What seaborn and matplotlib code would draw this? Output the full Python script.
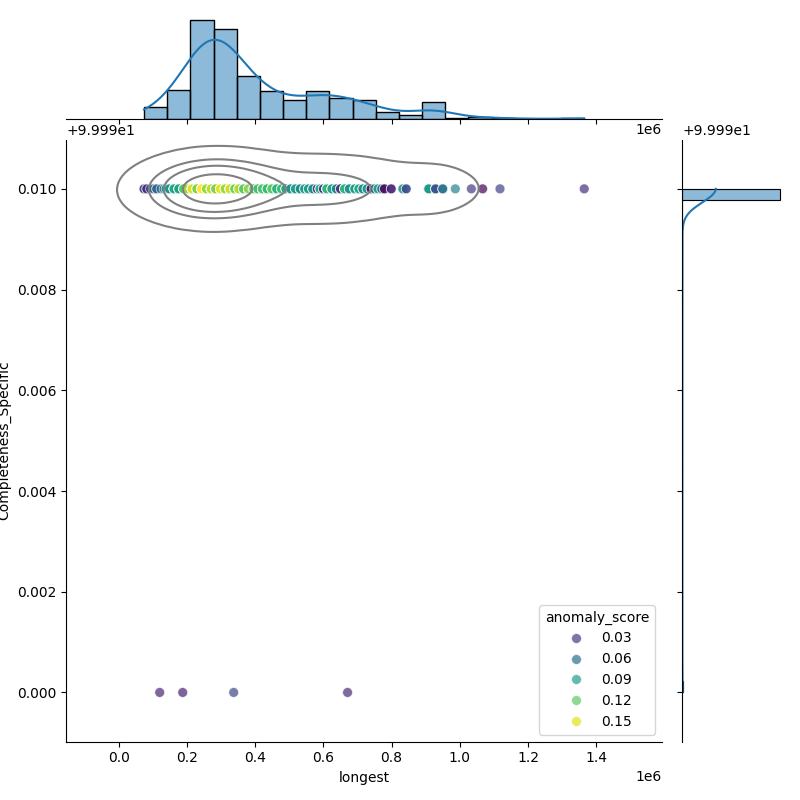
import matplotlib
matplotlib.use("Agg")
import matplotlib.pyplot as plt
import numpy as np
import pandas as pd
import seaborn as sns

# ---- data ----
# distinct x positions (longest contig), how many genomes sit on each,
# their Completeness_Specific and anomaly_score
longest_values = [
    74000, 82000, 93000, 102000, 111000, 124000, 133000, 139000,
    148000, 162000, 176000, 190000, 203000,
    215000, 229000, 243000, 257000, 271000,
    284000, 298000, 312000, 326000, 340000,
    352000, 366000, 380000, 393000, 396000, 408000,
    421000, 435000, 449000, 463000, 477000,
    490000, 504000, 518000, 532000, 545000,
    556000, 569000, 582000, 590000, 600000, 610000,
    625000, 638000, 650000, 662000, 676000,
    692000, 704000, 716000, 728000, 740000, 750000,
    760000, 771000, 779000, 799000,
    833000, 843000,
    909000, 929000, 950000,
    987000, 1034000, 1067000, 1118000, 1365000,
    120000, 187500, 337000, 671000,
]
copies = [
    2, 2, 1, 2, 2, 1, 1, 1,
    6, 8, 8, 5, 5,
    22, 24, 23, 22, 22,
    22, 22, 22, 20, 16,
    14, 13, 11, 1, 6, 4,
    9, 8, 7, 5, 3,
    5, 5, 4, 4, 4,
    5, 5, 3, 6, 4, 9,
    5, 5, 4, 5, 4,
    4, 5, 4, 3, 3, 2,
    2, 2, 2, 2,
    2, 2,
    10, 6, 3,
    1, 1, 1, 1, 1,
    1, 1, 1, 1,
]
completeness_values = [100.0] * 70 + [99.99, 99.99, 99.99, 99.99]
score_values = [
    0.032, 0.025, 0.045, 0.050, 0.055, 0.062, 0.070, 0.075,
    0.085, 0.095, 0.092, 0.118, 0.135,
    0.150, 0.128, 0.158, 0.135, 0.142,
    0.128, 0.152, 0.135, 0.146, 0.124,
    0.140, 0.120, 0.132, 0.025, 0.118, 0.112,
    0.115, 0.108, 0.118, 0.104, 0.110,
    0.096, 0.084, 0.092, 0.078, 0.088,
    0.090, 0.082, 0.028, 0.100, 0.032, 0.105,
    0.094, 0.070, 0.030, 0.104, 0.084,
    0.090, 0.098, 0.076, 0.088, 0.012, 0.064,
    0.092, 0.060, 0.010, 0.018,
    0.085, 0.040,
    0.088, 0.045, 0.062,
    0.072, 0.030, 0.004, 0.034, 0.026,
    0.020, 0.018, 0.036, 0.022,
]

df = pd.DataFrame({
    "longest": np.repeat(longest_values, copies),
    "Completeness_Specific": np.repeat(completeness_values, copies),
    "anomaly_score": np.repeat(score_values, copies),
})

g = sns.JointGrid(data=df, x="longest", y="Completeness_Specific", height=8)

sns.scatterplot(data=df, x="longest", y="Completeness_Specific",
                hue="anomaly_score", palette="viridis", alpha=0.7, s=50,
                ax=g.ax_joint)
sns.kdeplot(data=df, x="longest", y="Completeness_Specific",
            color="gray", levels=5, ax=g.ax_joint)

sns.histplot(data=df, x="longest", bins=19, kde=True, ax=g.ax_marg_x)
sns.histplot(data=df, y="Completeness_Specific", bins=44, kde=True, ax=g.ax_marg_y)

sns.move_legend(g.ax_joint, "lower right")

plt.savefig("out.png", dpi=100)
